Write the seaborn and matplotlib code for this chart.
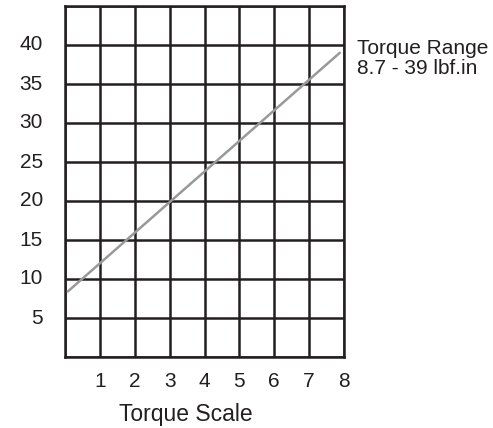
import matplotlib
matplotlib.use("Agg")
import matplotlib.pyplot as plt
import seaborn as sns
import pandas as pd

# Data
scale_x = [0.08, 7.88]
torque_y = [8.4, 39.0]
x_ticks = [0, 1, 2, 3, 4, 5, 6, 7, 8]
x_labels = ["", "1", "2", "3", "4", "5", "6", "7", "8"]
y_ticks = [0, 5, 10, 15, 20, 25, 30, 35, 40, 45]
y_labels = ["", "5", "10", "15", "20", "25", "30", "35", "40", ""]
x_title = "Torque Scale"
note = "Torque Range\n8.7 - 39 lbf.in"

sns.set_style("white")
plt.rcParams['font.family'] = ['Liberation Sans', 'DejaVu Sans']

fig = plt.figure(figsize=(4.93, 4.28), dpi=100)
ax = fig.add_axes([65/493, 1-357/428, 279/493, 351/428])

df = pd.DataFrame({"x": scale_x, "y": torque_y})
sns.lineplot(data=df, x="x", y="y", ax=ax, color="#999999", linewidth=1.8, zorder=3)

ax.set_xlim(0, 8)
ax.set_ylim(0, 45)
ax.set_xticks(x_ticks)
ax.set_xticklabels(x_labels, fontsize=15)
ax.set_yticks(y_ticks)
ax.set_yticklabels(y_labels, fontsize=15)
ax.tick_params(axis="both", length=0, colors="#231f20")
ax.tick_params(axis="y", pad=16)
ax.tick_params(axis="x", pad=11)
for lbl in ax.get_yticklabels():
    lbl.set_va("center")
ax.grid(True, color="#231f20", linewidth=1.8)
for s in ax.spines.values():
    s.set_color("#231f20")
    s.set_linewidth(1.8)
    s.set_visible(True)
ax.set_ylabel("")
ax.set_xlabel(x_title, fontsize=16.5, color="#231f20")
ax.xaxis.set_label_coords(0.434, -0.165)
ax.xaxis.label.set_va("center")

ax.text(1.047, 0.906, note, transform=ax.transAxes, fontsize=15, color="#231f20",
        va="top", ha="left", linespacing=1.1)

fig.savefig("out.png", dpi=100)
